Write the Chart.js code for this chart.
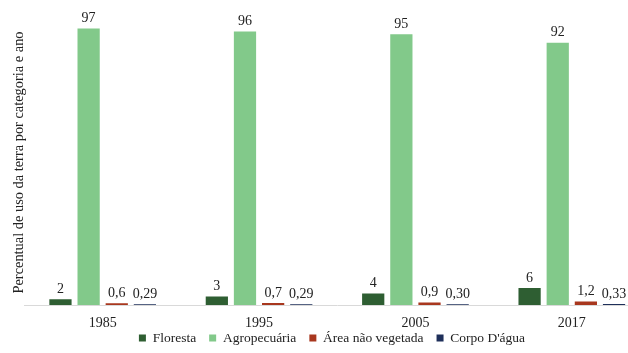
<!DOCTYPE html>
<html>
<head>
<meta charset="utf-8">
<style>
  html, body { margin: 0; padding: 0; background: #fff; overflow: hidden; }
  #wrap { width: 650px; height: 353px; }
</style>
</head>
<body>
<div id="wrap"><canvas id="usoChart" width="650" height="353"></canvas></div>
<script src="https://cdn.jsdelivr.net/npm/chart.js"></script>
<script>
  // anos e percentuais por categoria
  const years = ['1985', '1995', '2005', '2017'];
  const floresta = [2, 3, 4, 6];
  const agropecuaria = [97, 96, 95, 92];
  const areaNaoVegetada = [0.6, 0.7, 0.9, 1.2];
  const corpoDagua = [0.29, 0.29, 0.30, 0.33];
  const seriesNames = ['Floresta', 'Agropecuária', 'Área não vegetada', "Corpo D'água"];
  const labelDecimals = [0, 0, 1, 2];
  const colors = ['#2e5e32', '#82c98a', '#a8371e', '#1e2f5a'];

  const serif = '"Liberation Serif", "Times New Roman", serif';

  // rótulos de valor acima das barras
  const valueLabels = {
    id: 'valueLabels',
    afterDatasetsDraw(chart) {
      const ctx = chart.ctx;
      ctx.save();
      ctx.font = '14px ' + serif;
      ctx.fillStyle = '#222';
      ctx.textAlign = 'center';
      ctx.textBaseline = 'bottom';
      chart.data.datasets.forEach((ds, i) => {
        const meta = chart.getDatasetMeta(i);
        meta.data.forEach((bar, j) => {
          const txt = ds.data[j].toFixed(labelDecimals[i]).replace('.', ',');
          ctx.fillText(txt, bar.x, bar.y - 3);
        });
      });
      ctx.restore();
    }
  };

  // legenda um pouco mais perto dos anos
  const legendNudge = {
    id: 'legendNudge',
    afterLayout(chart) {
      chart.legend.top -= 10.75;
    }
  };

  const allSeries = [floresta, agropecuaria, areaNaoVegetada, corpoDagua];

  new Chart(document.getElementById('usoChart').getContext('2d'), {
    type: 'bar',
    data: {
      labels: years,
      datasets: allSeries.map((vals, i) => ({
        label: seriesNames[i],
        data: vals,
        backgroundColor: colors[i],
        borderWidth: 0,
        barPercentage: 0.79,
        categoryPercentage: 0.72
      }))
    },
    options: {
      responsive: false,
      animation: false,
      layout: { padding: { top: 20, left: 14, right: 0, bottom: 0 } },
      plugins: {
        tooltip: { enabled: false },
        legend: {
          position: 'bottom',
          maxHeight: 24,
          labels: {
            boxWidth: 7,
            boxHeight: 7,
            padding: 13,
            color: '#222',
            font: { family: serif, size: 13.5 }
          }
        }
      },
      scales: {
        x: {
          grid: { display: false, drawTicks: false },
          border: { display: true, color: '#d9d9d9', width: 1 },
          ticks: { color: '#222', padding: 11, font: { family: serif, size: 14, lineHeight: 1 } },
          afterFit(scale) { scale.height = 24; }
        },
        y: {
          min: 0,
          max: 100,
          grid: { display: false },
          border: { display: false },
          ticks: { display: false },
          title: {
            display: true,
            text: 'Percentual de uso da terra por categoria e ano',
            color: '#222',
            padding: { top: -3, bottom: 0 },
            font: { family: serif, size: 14.4 }
          },
          afterFit(scale) { scale.width = 10.5; }
        }
      }
    },
    plugins: [valueLabels, legendNudge]
  });
</script>
</body>
</html>
